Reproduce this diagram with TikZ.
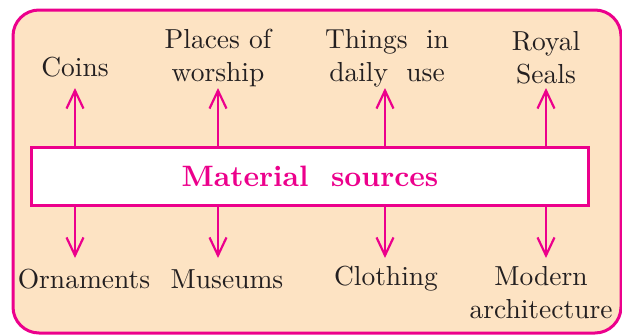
\documentclass[tikz,border=0pt]{standalone}
\usepackage{fontspec}
\newfontfamily\lmten{lmroman10-regular.otf}[BoldFont=lmroman10-bold.otf]
\usetikzlibrary{arrows.meta}
\definecolor{mag}{HTML}{EC008C}
\definecolor{peach}{HTML}{FDE3C3}
\definecolor{txt}{HTML}{231F20}
\begin{document}
\begin{tikzpicture}[x=1pt,y=-1pt,
  lbl/.style={text=txt,font=\lmten\fontsize{27.5}{33}\selectfont,align=center,inner sep=0pt},
  arr/.style={draw=mag,line width=2.2pt,-{Straight Barb[length=18pt,width=17pt,line width=2.2pt]}},
  mainbox/.style={draw=mag,line width=3pt,fill=white,minimum width=557pt,minimum height=58pt,inner sep=0pt,
     text=mag,font=\lmten\fontsize{29.5}{36}\selectfont\bfseries}]
\useasboundingbox (0,0) rectangle (622,335);
\draw[mag,line width=3pt,fill=peach,rounded corners=26pt] (13,10) rectangle (621,333);
\node[mainbox] (m) at (310,176) {Material\ \ sources};
% top labels
\node[lbl] (coins) at (75,67) {Coins};
\node[lbl] (places) at (218,58) {Places of\\worship};
\node[lbl] (things) at (387,58) {Things\ \ in\\daily\ \ use};
\node[lbl] (royal) at (546,58) {Royal\\Seals};
% bottom labels
\node[lbl] (orn) at (84,279) {Ornaments};
\node[lbl] (mus) at (227,279) {Museums};
\node[lbl] (clo) at (386,279) {Clothing};
\node[lbl] (mod) at (541,293) {Modern\\architecture};
% coordinates for arrow ends
\coordinate (t1) at (75,88);
\coordinate (t2) at (218,88);
\coordinate (t3) at (385,88);
\coordinate (t4) at (546,88);
\coordinate (b1) at (75,258);
\coordinate (b2) at (218,258);
\coordinate (b3) at (385,258);
\coordinate (b4) at (546,258);
\foreach \i in {1,2,3,4}{
  \draw[arr] (m.north -| t\i) -- (t\i);
  \draw[arr] (m.south -| b\i) -- (b\i);
}
\end{tikzpicture}
\end{document}
